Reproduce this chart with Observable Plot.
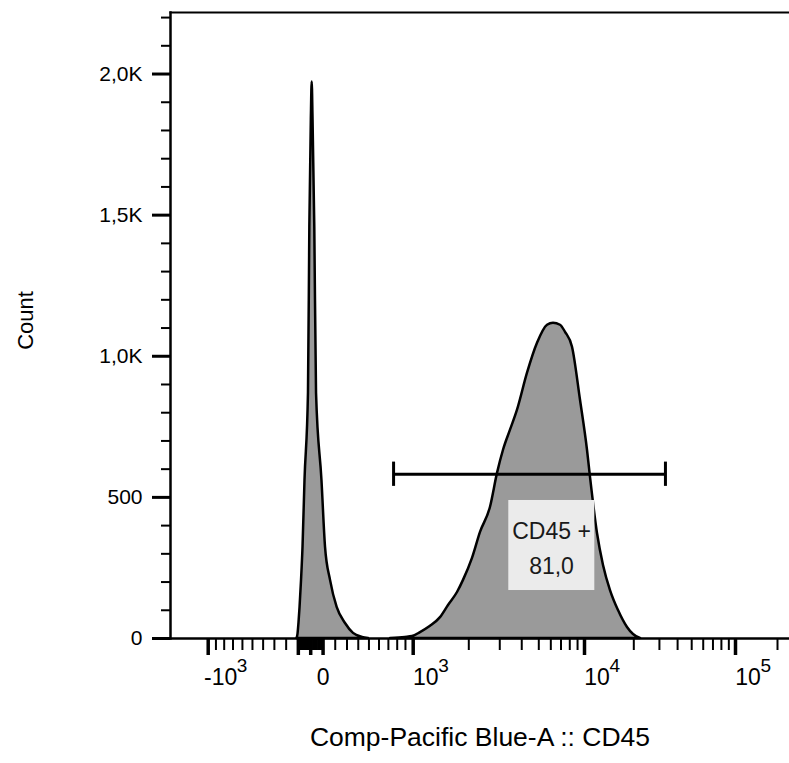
<!DOCTYPE html>
<html>
<head>
<meta charset="utf-8">
<script src="https://cdn.jsdelivr.net/npm/d3@7"></script>
<script src="https://cdn.jsdelivr.net/npm/@observablehq/plot@0.6"></script>
<style>
  html, body { margin: 0; padding: 0; background: #fff; overflow: hidden; }
  svg { display: block; }
</style>
</head>
<body>
<div id="chart"></div>
<script>
// ---- Data ----
// Peak 1: negative / unstained population near 0
const peak1Values = [-111, -103, -95, -86, -74, -62, -46, -18, -7, 5, 12, 19, 33, 47, 91, 120, 161, 216, 287, 357, 439, 496];
const peak1Counts = [0, 14, 53, 110, 206, 323, 560, 869, 1457, 1837, 1972, 1837, 1457, 869, 560, 323, 206, 110, 53, 18, 4, 0];
// Peak 2: CD45+ population
const peak2Values = [724, 898, 991, 1095, 1241, 1405, 1553, 1737, 1872, 2099, 2331, 2657, 2912, 3150, 3452, 3784, 4313, 4916, 5706, 6249, 6950, 7498, 8337, 9412, 10430, 10880, 12004, 13062, 14411, 16130, 18303, 19920, 22230];
const peak2Counts = [0, 4, 7, 21, 43, 74, 117, 163, 206, 284, 376, 465, 585, 667, 738, 809, 940, 1046, 1110, 1117, 1110, 1085, 1032, 844, 667, 571, 372, 259, 170, 99, 39, 14, 0];

// Gate "CD45 +"
const gateName = "CD45 +";
const gatePercent = "81,0";
const gateLow = 758;
const gateHigh = 33000;
const gateLevel = 582;
const gateCapHalf = 43;
const gateBox = {x1: 3376, x2: 11560, y1: 170, y2: 489};
const gateLabelAt = {x: 6063, y: 330};

// Axis ticks and labels
const yMajorTicks = [0, 500, 1000, 1500, 2000];
const yTickLabels = ["0", "500", "1,0K", "1,5K", "2,0K"];
const yMinorTicks = [100, 200, 300, 400, 600, 700, 800, 900, 1100, 1200, 1300, 1400, 1600, 1700, 1800, 1900, 2100, 2200];

const xLabelTicks = [-1000, 0, 1000, 10000, 100000];
const xLabelBase = ["-10", "0", "10", "10", "10"];
const xLabelExp = ["3", "", "3", "4", "5"];
const xMajorTicks = [-1000, -100, 0, 100, 1000, 10000, 100000];
const xMinorTicks = [
  -900, -800, -700, -600, -500, -400, -300, -200,
  -90, -80, -70, -60, -50, -40, -30, -20, -10,
  10, 20, 30, 40, 50, 60, 70, 80, 90,
  200, 300, 400, 500, 600, 700, 800, 900,
  2000, 3000, 4000, 5000, 6000, 7000, 8000, 9000,
  20000, 30000, 40000, 50000, 60000, 70000, 80000, 90000,
  200000
];

const xTitle = "Comp-Pacific Blue-A :: CD45";
const yTitle = "Count";

// ---- Biexponential-like display transform (FlowJo style axis) ----
const LIN_C = 757, LIN_K = 93.93, ZERO_POS = 310.2;
const decadeMap = d3.scaleLinear()
  .domain([3, Math.log10(2000), Math.log10(5000), 4, Math.log10(20000), 5, Math.log10(200000)])
  .range([412.7, 468.3, 538.3, 584, 633.3, 735, 777]);
function biex(v) {
  if (Math.abs(v) <= 1000) return ZERO_POS + LIN_K * Math.asinh(v / LIN_C);
  if (v > 0) return decadeMap(Math.log10(v));
  return 2 * ZERO_POS - decadeMap(Math.log10(-v));
}

// ---- Build table ----
const hist = [
  ...peak1Values.map((v, i) => ({peak: "neg", v, n: peak1Counts[i]})),
  ...peak2Values.map((v, i) => ({peak: "pos", v, n: peak2Counts[i]}))
];

const font = "'Liberation Sans', Arial, Helvetica, sans-serif";

const chart = Plot.plot({
  width: 789,
  height: 763,
  marginLeft: 170,
  marginRight: 0,
  marginTop: 12,
  marginBottom: 125,
  style: {fontFamily: font, background: "#fff", color: "#000"},
  x: {type: "linear", transform: biex, domain: [170, 789]},
  y: {domain: [0, 2218]},
  marks: [
    Plot.areaY(hist, {x: "v", y: "n", z: "peak", fill: "#9a9a9a", stroke: "#000", strokeWidth: 2.5, strokeLinejoin: "round", curve: "monotone-x"}),
    Plot.frame({anchor: "top", stroke: "#000", strokeWidth: 2}),
    Plot.frame({anchor: "left", stroke: "#000", strokeWidth: 2.5}),
    Plot.frame({anchor: "bottom", stroke: "#000", strokeWidth: 2.5}),
    // y axis
    Plot.axisY(yMinorTicks, {tickSize: 9, strokeWidth: 2, tickFormat: () => "", label: null}),
    Plot.axisY(yMajorTicks, {tickSize: 18, strokeWidth: 3, tickPadding: 10, fontSize: 21, fill: "#000",
      tickFormat: d => yTickLabels[yMajorTicks.indexOf(d)], label: null}),
    // x axis
    Plot.axisX(xMinorTicks, {tickSize: 12, strokeWidth: 2, tickFormat: () => "", label: null}),
    Plot.axisX(xMajorTicks, {tickSize: 17, strokeWidth: 3.5, tickFormat: () => "", label: null}),
    Plot.text(xLabelTicks, {x: d => d, text: (d, i) => xLabelBase[i], frameAnchor: "bottom", dx: 12.5, dy: 46, fontSize: 23, fill: "#000"}),
    Plot.text(xLabelTicks, {filter: d => d > 0, x: d => d, text: d => xLabelExp[xLabelTicks.indexOf(d)], frameAnchor: "bottom", textAnchor: "start", dx: 25, dy: 33, fontSize: 19, fill: "#000"}),
    Plot.text(xLabelTicks, {filter: d => d < 0, x: d => d, text: d => xLabelExp[xLabelTicks.indexOf(d)], frameAnchor: "bottom", textAnchor: "start", dx: 28.5, dy: 33, fontSize: 19, fill: "#000"}),
    // titles
    Plot.text([xTitle], {frameAnchor: "bottom", dy: 107, fontSize: 26.5, fill: "#000"}),
    Plot.text([yTitle], {frameAnchor: "left", textAnchor: "middle", rotate: -90, dx: -145, dy: -5, fontSize: 22, fill: "#000"}),
    // gate
    Plot.ruleY([gateLevel], {x1: gateLow, x2: gateHigh, stroke: "#000", strokeWidth: 3}),
    Plot.ruleX([gateLow, gateHigh], {y1: gateLevel - gateCapHalf, y2: gateLevel + gateCapHalf, stroke: "#000", strokeWidth: 3}),
    Plot.rect([gateBox], {x1: "x1", x2: "x2", y1: "y1", y2: "y2", fill: "#ebebeb"}),
    Plot.text([gateLabelAt], {x: "x", y: "y", text: () => gateName + "\n" + gatePercent, fontSize: 23, lineHeight: 1.5, fill: "#1a1a1a"})
  ]
});
document.getElementById("chart").appendChild(chart);
</script>
</body>
</html>
